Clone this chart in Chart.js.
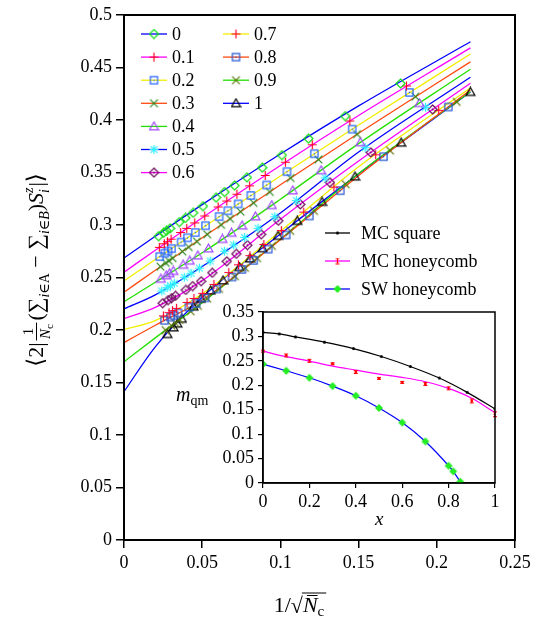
<!DOCTYPE html>
<html>
<head>
<meta charset="utf-8">
<script src="https://cdn.jsdelivr.net/npm/chart.js@4"></script>
<style>
  html, body { margin: 0; padding: 0; background: #fff; }
  #wrap { position: relative; width: 535px; height: 621px; }
  #main { position: absolute; left: 0; top: 0; }
  #inset { position: absolute; left: 160px; top: 215px; }
</style>
</head>
<body>
<div id="wrap">
  <canvas id="main" width="535" height="621"></canvas>
  <canvas id="inset" width="350" height="325"></canvas>
</div>
<script>
/* =============================
   DATA – MAIN PLOT
============================= */

const seriesNames = ["0", "0.1", "0.2", "0.3", "0.4", "0.5", "0.6", "0.7", "0.8", "0.9", "1"];

// fitted curves
const fitX  = [0, 0.02, 0.05, 0.1, 0.15, 0.2215];
const fit00 = [0.2686, 0.2892, 0.3194, 0.3676, 0.4134, 0.4745];
const fit01 = [0.2550, 0.2760, 0.3069, 0.3567, 0.4043, 0.4687];
const fit02 = [0.2467, 0.2671, 0.2972, 0.3467, 0.3952, 0.4628];
const fit03 = [0.2360, 0.2569, 0.2878, 0.3383, 0.3874, 0.4554];
const fit04 = [0.2270, 0.2455, 0.2735, 0.3245, 0.3775, 0.4483];
const fit05 = [0.2200, 0.2335, 0.2605, 0.3115, 0.3695, 0.4407];
const fit06 = [0.2107, 0.2215, 0.2470, 0.3055, 0.3610, 0.4350];
const fit07 = [0.2006, 0.2090, 0.2345, 0.2940, 0.3555, 0.4305];
const fit08 = [0.1880, 0.2045, 0.2285, 0.2860, 0.3470, 0.4286];
const fit09 = [0.1697, 0.1925, 0.2260, 0.2865, 0.3490, 0.4270];
const fit10 = [0.1413, 0.1840, 0.2311, 0.2915, 0.3487, 0.4267];

// data points
const x00 = [0.0221, 0.0253, 0.0272, 0.0295, 0.0354, 0.0393, 0.0442, 0.0505, 0.0589, 0.0643, 0.0707, 0.0786, 0.0884, 0.1010, 0.1179, 0.1414, 0.1768];
const y00 = [0.2893, 0.2926, 0.2945, 0.2968, 0.3028, 0.3067, 0.3116, 0.3179, 0.3261, 0.3314, 0.3376, 0.3453, 0.3546, 0.3665, 0.3823, 0.4037, 0.4348];
const x01 = [0.0226, 0.0258, 0.0278, 0.0301, 0.0362, 0.0401, 0.0452, 0.0516, 0.0602, 0.0657, 0.0722, 0.0803, 0.0903, 0.1032, 0.1204, 0.1444, 0.1806];
const y01 = [0.2787, 0.2821, 0.2841, 0.2865, 0.2928, 0.2968, 0.3020, 0.3086, 0.3172, 0.3228, 0.3293, 0.3373, 0.3472, 0.3598, 0.3764, 0.3991, 0.4324];
const x02 = [0.0228, 0.0261, 0.0281, 0.0304, 0.0365, 0.0406, 0.0456, 0.0521, 0.0608, 0.0664, 0.0730, 0.0811, 0.0912, 0.1042, 0.1217, 0.1459, 0.1825];
const y02 = [0.2699, 0.2732, 0.2752, 0.2775, 0.2837, 0.2878, 0.2928, 0.2993, 0.3080, 0.3136, 0.3201, 0.3281, 0.3381, 0.3508, 0.3679, 0.3913, 0.4262];
const x03 = [0.0233, 0.0267, 0.0287, 0.0311, 0.0373, 0.0414, 0.0466, 0.0532, 0.0621, 0.0678, 0.0745, 0.0828, 0.0932, 0.1065, 0.1243, 0.1490, 0.1863];
const y03 = [0.2603, 0.2639, 0.2659, 0.2684, 0.2748, 0.2790, 0.2843, 0.2911, 0.3002, 0.3060, 0.3127, 0.3211, 0.3315, 0.3448, 0.3624, 0.3865, 0.4223];
const x04 = [0.0236, 0.0270, 0.0291, 0.0315, 0.0378, 0.0420, 0.0472, 0.0540, 0.0629, 0.0687, 0.0755, 0.0840, 0.0945, 0.1079, 0.1260, 0.1511, 0.1889];
const y04 = [0.2488, 0.2520, 0.2540, 0.2562, 0.2621, 0.2660, 0.2709, 0.2776, 0.2867, 0.2926, 0.2995, 0.3082, 0.3189, 0.3329, 0.3521, 0.3787, 0.4161];
const x05 = [0.0241, 0.0276, 0.0297, 0.0322, 0.0386, 0.0429, 0.0482, 0.0551, 0.0642, 0.0701, 0.0771, 0.0857, 0.0964, 0.1102, 0.1286, 0.1542, 0.1928];
const y05 = [0.2372, 0.2403, 0.2422, 0.2445, 0.2502, 0.2541, 0.2589, 0.2657, 0.2750, 0.2810, 0.2881, 0.2969, 0.3078, 0.3233, 0.3448, 0.3737, 0.4121];
const x06 = [0.0247, 0.0282, 0.0304, 0.0329, 0.0395, 0.0439, 0.0493, 0.0564, 0.0657, 0.0718, 0.0789, 0.0877, 0.0987, 0.1127, 0.1316, 0.1578, 0.1973];
const y06 = [0.2255, 0.2285, 0.2303, 0.2325, 0.2381, 0.2418, 0.2464, 0.2545, 0.2654, 0.2725, 0.2808, 0.2911, 0.3040, 0.3196, 0.3406, 0.3691, 0.4100];
const x07 = [0.0252, 0.0288, 0.0310, 0.0336, 0.0403, 0.0447, 0.0503, 0.0575, 0.0670, 0.0732, 0.0805, 0.0894, 0.1006, 0.1149, 0.1342, 0.1609, 0.2012];
const y07 = [0.2134, 0.2165, 0.2184, 0.2206, 0.2263, 0.2300, 0.2349, 0.2434, 0.2547, 0.2621, 0.2708, 0.2814, 0.2947, 0.3123, 0.3361, 0.3669, 0.4092];
const x08 = [0.0259, 0.0297, 0.0319, 0.0346, 0.0415, 0.0461, 0.0518, 0.0592, 0.0691, 0.0754, 0.0829, 0.0922, 0.1037, 0.1185, 0.1383, 0.1659, 0.2074];
const y08 = [0.2092, 0.2123, 0.2140, 0.2162, 0.2217, 0.2254, 0.2306, 0.2391, 0.2505, 0.2577, 0.2663, 0.2770, 0.2905, 0.3086, 0.3327, 0.3650, 0.4124];
const x09 = [0.0266, 0.0304, 0.0327, 0.0355, 0.0426, 0.0473, 0.0532, 0.0608, 0.0709, 0.0774, 0.0851, 0.0946, 0.1063, 0.1215, 0.1418, 0.1701, 0.2127];
const y09 = [0.1999, 0.2041, 0.2067, 0.2098, 0.2178, 0.2230, 0.2299, 0.2391, 0.2513, 0.2592, 0.2685, 0.2800, 0.2944, 0.3134, 0.3388, 0.3709, 0.4173];
const x10 = [0.0277, 0.0317, 0.0341, 0.0370, 0.0444, 0.0492, 0.0554, 0.0633, 0.0738, 0.0806, 0.0886, 0.0985, 0.1108, 0.1266, 0.1477, 0.1772, 0.2215];
const y10 = [0.1961, 0.2024, 0.2061, 0.2107, 0.2223, 0.2298, 0.2376, 0.2472, 0.2599, 0.2681, 0.2778, 0.2897, 0.3039, 0.3220, 0.3461, 0.3784, 0.4267];

const xTicks = [0, 0.05, 0.1, 0.15, 0.2, 0.25];
const yTicks = [0, 0.05, 0.1, 0.15, 0.2, 0.25, 0.3, 0.35, 0.4, 0.45, 0.5];

/* =============================
   DATA – INSET
============================= */

const insetNames = ["MC square", "MC honeycomb", "SW honeycomb"];
const sqX = [0, 0.07, 0.14, 0.265, 0.39, 0.51, 0.635, 0.76, 0.88, 1.0];
const sqY = [0.3085, 0.3051, 0.2990, 0.2882, 0.2752, 0.2589, 0.2385, 0.2148, 0.1855, 0.1516];
const mcX = [0, 0.1, 0.2, 0.3, 0.4, 0.5, 0.6, 0.7, 0.8, 0.9, 1.0];
const mcY = [0.2698, 0.2610, 0.2501, 0.2440, 0.2270, 0.2141, 0.2059, 0.2025, 0.1937, 0.1679, 0.1407];
const mcErr = [0.002, 0.003, 0.003, 0.002, 0.003, 0.002, 0.002, 0.003, 0.003, 0.004, 0.005];
const mcFitX = [0, 0.1, 0.2, 0.3, 0.4, 0.5, 0.6, 0.7, 0.8, 0.9, 1.0];
const mcFitY = [0.2698, 0.2585, 0.2494, 0.2392, 0.2311, 0.2229, 0.2161, 0.2073, 0.1937, 0.1735, 0.1441];
const swX = [0, 0.1, 0.2, 0.3, 0.4, 0.5, 0.6, 0.7, 0.8, 0.82, 0.85];
const swY = [0.2433, 0.2297, 0.2154, 0.1984, 0.1787, 0.1536, 0.1237, 0.0850, 0.0353, 0.0238, 0.0027];
const insetXTicks = [0, 0.2, 0.4, 0.6, 0.8, 1];
const insetYTicks = [0, 0.05, 0.1, 0.15, 0.2, 0.25, 0.3, 0.35];

/* =============================
   STYLES
============================= */

const SERIF = '"Liberation Serif", "DejaVu Serif", serif';
const lineColors = ["#0000ff", "#ff00ff", "#f2ee00", "#ff4a10", "#22e000", "#0000ff", "#ff00ff", "#f2ee00", "#ff4a10", "#22e000", "#0000ff"];
const markKinds  = ["diamond", "plus", "square", "x", "triangle", "star", "diamondDot", "plus", "square", "x", "triangle"];
const markColors = ["#10dd10", "#ff0020", "#2060ff", "#2a8a20", "#a048ff", "#30f0ff", "#6a0a5a", "#ff0030", "#2050d0", "#5a7400", "#000000"];

function font(size, italic) {
    return (italic ? "italic " : "") + size + "px " + SERIF;
}

// small canvases used as point styles
function makeMarker(kind, color, size) {
    const c = document.createElement("canvas");
    c.width = size; c.height = size;
    const g = c.getContext("2d");
    const m = size / 2, r = size / 2 - 1;
    g.strokeStyle = color; g.fillStyle = color; g.lineWidth = 1.2;
    g.beginPath();
    if (kind === "diamond" || kind === "diamondDot" || kind === "diamondFill") {
        g.moveTo(m, m - r); g.lineTo(m + r, m); g.lineTo(m, m + r); g.lineTo(m - r, m); g.closePath();
        if (kind === "diamondFill") g.fill(); else g.stroke();
        if (kind === "diamondDot") { g.beginPath(); g.arc(m, m, 1, 0, 2 * Math.PI); g.fill(); }
    } else if (kind === "plus") {
        g.moveTo(m - r, m); g.lineTo(m + r, m); g.moveTo(m, m - r); g.lineTo(m, m + r); g.stroke();
    } else if (kind === "x") {
        const d = r * 0.85;
        g.moveTo(m - d, m - d); g.lineTo(m + d, m + d); g.moveTo(m + d, m - d); g.lineTo(m - d, m + d); g.stroke();
    } else if (kind === "square") {
        const d = r * 0.8;
        g.strokeRect(m - d, m - d, 2 * d, 2 * d);
        g.fillRect(m - 0.7, m - 0.7, 1.4, 1.4);
    } else if (kind === "triangle") {
        g.moveTo(m, m - r); g.lineTo(m + r, m + r * 0.75); g.lineTo(m - r, m + r * 0.75); g.closePath(); g.stroke();
    } else if (kind === "star") {
        const d = r * 0.75;
        g.moveTo(m - r, m); g.lineTo(m + r, m); g.moveTo(m, m - r); g.lineTo(m, m + r);
        g.moveTo(m - d, m - d); g.lineTo(m + d, m + d); g.moveTo(m + d, m - d); g.lineTo(m - d, m + d); g.stroke();
    } else if (kind === "dot") {
        g.arc(m, m, r, 0, 2 * Math.PI); g.fill();
    } else if (kind === "errbar") {
        g.moveTo(m, 1); g.lineTo(m, size - 1);
        g.moveTo(m - 2, 1); g.lineTo(m + 2, 1);
        g.moveTo(m - 2, size - 1); g.lineTo(m + 2, size - 1); g.stroke();
    }
    return c;
}

const markers = markKinds.map((k, i) => makeMarker(k, markColors[i], 11));

/* =============================
   MAIN CHART
============================= */

const fits = [fit00, fit01, fit02, fit03, fit04, fit05, fit06, fit07, fit08, fit09, fit10];
const ptsX = [x00, x01, x02, x03, x04, x05, x06, x07, x08, x09, x10];
const ptsY = [y00, y01, y02, y03, y04, y05, y06, y07, y08, y09, y10];

const mainSets = [];
seriesNames.forEach((name, i) => {
    mainSets.push({
        label: name,
        data: ptsX[i].map((x, j) => ({ x: x, y: ptsY[i][j] })),
        showLine: false,
        pointStyle: markers[i],
        pointRadius: 5,
        order: 1
    });
    mainSets.push({
        label: name + " fit",
        data: fitX.map((x, j) => ({ x: x, y: fits[i][j] })),
        showLine: true,
        borderColor: lineColors[i],
        borderWidth: 1.3,
        pointRadius: 0,
        cubicInterpolationMode: "monotone",
        order: 2
    });
});

function fmt(v) {
    return String(+v.toFixed(2));
}

function drawMainLegend(ctx) {
    ctx.save();
    ctx.font = font(18);
    ctx.textBaseline = "middle";
    ctx.fillStyle = "#000";
    seriesNames.forEach((name, i) => {
        const col = i < 7 ? 0 : 1;
        const row = i < 7 ? i : i - 7;
        const x0 = col === 0 ? 141 : 223;
        const y = 34 + row * 23.1;
        ctx.strokeStyle = lineColors[i];
        ctx.lineWidth = 1.3;
        ctx.beginPath(); ctx.moveTo(x0, y); ctx.lineTo(x0 + 26, y); ctx.stroke();
        ctx.drawImage(markers[i], x0 + 13 - 5.5, y - 5.5);
        ctx.fillText(name, x0 + 31, y + 1);
    });
    ctx.restore();
}

function drawYTitle(ctx) {
    ctx.save();
    ctx.translate(43, 270);
    ctx.rotate(-Math.PI / 2);
    ctx.fillStyle = "#000";
    ctx.textBaseline = "alphabetic";
    const run = draw => {
        let x = 0;
        const put = (t, sz, it, dy, adv) => {
            ctx.font = font(sz, it);
            if (draw) ctx.fillText(t, x, dy || 0);
            const w = ctx.measureText(t).width;
            if (adv !== false) x += w;
            return w;
        };
        put("\u27E8", 23); put("2", 22); put("|", 22);
        x += 2;
        ctx.font = font(15); const wn = ctx.measureText("1").width;
        ctx.font = font(15, true); const wN = ctx.measureText("N").width;
        ctx.font = font(11); const wc = ctx.measureText("c").width;
        const fw = Math.max(wn, wN + wc) + 3;
        if (draw) {
            ctx.font = font(15); ctx.fillText("1", x + (fw - wn) / 2, -10);
            ctx.fillRect(x, -7, fw, 1);
            const dx = x + (fw - wN - wc) / 2;
            ctx.font = font(15, true); ctx.fillText("N", dx, 7);
            ctx.font = font(11); ctx.fillText("c", dx + wN, 9.5);
        }
        x += fw + 2;
        put("(", 22);
        put("\u2211", 22);
        put("i", 14, true, 6); put("\u2208", 14, false, 6); put("A", 14, false, 6);
        put(" \u2212 ", 22);
        put("\u2211", 22);
        put("i", 14, true, 6); put("\u2208", 14, false, 6); put("B", 14, true, 6);
        put(")", 22);
        put("S", 22, true);
        const w1 = put("z", 14, true, -10, false);
        const w2 = put("i", 14, true, 6, false);
        x += Math.max(w1, w2) + 1;
        put("|", 22); put("\u27E9", 23);
        return x;
    };
    const total = run(false);
    ctx.translate(-total / 2, 0);
    run(true);
    ctx.restore();
}

function drawXTitle(ctx) {
    ctx.save();
    ctx.fillStyle = "#000";
    ctx.strokeStyle = "#000";
    ctx.textBaseline = "alphabetic";
    ctx.font = font(22); const w1 = ctx.measureText("1/").width;
    const wr = ctx.measureText("\u221A").width;
    ctx.font = font(22, true); const wN = ctx.measureText("N").width;
    ctx.font = font(15); const wc = ctx.measureText("c").width;
    const total = w1 + wr + wN + wc + 2;
    let x = 300 - total / 2;
    const y = 612;
    ctx.font = font(22); ctx.fillText("1/", x, y); x += w1;
    ctx.fillText("\u221A", x, y + 1); x += wr;
    ctx.lineWidth = 1;
    ctx.beginPath(); ctx.moveTo(x - 1, y - 19); ctx.lineTo(x + wN + wc + 2, y - 19); ctx.stroke();
    ctx.beginPath(); ctx.moveTo(x + 4, y - 16.5); ctx.lineTo(x + wN, y - 16.5); ctx.stroke();
    ctx.font = font(22, true); ctx.fillText("N", x, y); x += wN;
    ctx.font = font(15); ctx.fillText("c", x, y + 4);
    ctx.restore();
}

const mainDecor = {
    id: "mainDecor",
    afterDraw(chart) {
        const { ctx, chartArea: a } = chart;
        ctx.save();
        ctx.strokeStyle = "#000";
        ctx.lineWidth = 2;
        ctx.strokeRect(a.left, a.top, a.right - a.left, a.bottom - a.top);
        ctx.restore();
        drawMainLegend(ctx);
        drawYTitle(ctx);
        drawXTitle(ctx);
    }
};

Chart.defaults.font.family = SERIF;
Chart.defaults.color = "#000";

new Chart(document.getElementById("main"), {
    type: "scatter",
    data: { datasets: mainSets },
    options: {
        responsive: false,
        animation: false,
        layout: { padding: { top: 15, right: 20, left: 0, bottom: 0 } },
        plugins: { legend: { display: false }, tooltip: { enabled: false } },
        scales: {
            x: {
                type: "linear", min: 0, max: 0.25,
                afterBuildTicks: s => { s.ticks = xTicks.map(v => ({ value: v })); },
                afterFit: s => { s.height = 81; },
                ticks: { font: { size: 18 }, padding: 4, autoSkip: false, maxRotation: 0, callback: fmt },
                grid: { drawOnChartArea: false, tickLength: 8, color: "#000", lineWidth: 1.5 },
                border: { color: "#000", width: 2 }
            },
            y: {
                type: "linear", min: 0, max: 0.5,
                afterBuildTicks: s => { s.ticks = yTicks.map(v => ({ value: v })); },
                afterFit: s => { s.width = 124; },
                ticks: { font: { size: 18 }, padding: 4, autoSkip: false, callback: fmt },
                grid: { drawOnChartArea: false, tickLength: 8, color: "#000", lineWidth: 1.5 },
                border: { color: "#000", width: 2 }
            }
        }
    },
    plugins: [mainDecor]
});

/* =============================
   INSET CHART
============================= */

const sqDot = makeMarker("dot", "#000", 5);
const swDiamond = makeMarker("diamondFill", "#22ee22", 10);
const errIcon = makeMarker("errbar", "#ff0000", 7);

const insetDecor = {
    id: "insetDecor",
    afterDatasetsDraw(chart) {
        const { ctx, scales } = chart;
        ctx.save();
        ctx.strokeStyle = "#ff0000";
        ctx.lineWidth = 1;
        mcX.forEach((x, i) => {
            const px = scales.x.getPixelForValue(x);
            const y1 = scales.y.getPixelForValue(mcY[i] - mcErr[i]);
            const y2 = scales.y.getPixelForValue(mcY[i] + mcErr[i]);
            ctx.beginPath();
            ctx.moveTo(px, y1); ctx.lineTo(px, y2);
            ctx.moveTo(px - 2, y1); ctx.lineTo(px + 2, y1);
            ctx.moveTo(px - 2, y2); ctx.lineTo(px + 2, y2);
            ctx.stroke();
        });
        ctx.restore();
    },
    afterDraw(chart) {
        const { ctx, chartArea: a } = chart;
        ctx.save();
        ctx.strokeStyle = "#000";
        ctx.lineWidth = 1.5;
        ctx.strokeRect(a.left, a.top, a.right - a.left, a.bottom - a.top);
        // legend
        const lc = ["#000000", "#ff00ff", "#0000ff"];
        const icons = [sqDot, errIcon, swDiamond];
        ctx.font = font(18);
        ctx.textBaseline = "middle";
        ctx.fillStyle = "#000";
        insetNames.forEach((name, i) => {
            const y = 18 + i * 28;
            ctx.strokeStyle = lc[i];
            ctx.lineWidth = 1.3;
            ctx.beginPath(); ctx.moveTo(165, y); ctx.lineTo(190, y); ctx.stroke();
            ctx.drawImage(icons[i], 177.5 - icons[i].width / 2, y - icons[i].height / 2);
            ctx.fillText(name, 201, y + 1);
        });
        // axis labels
        ctx.textBaseline = "alphabetic";
        ctx.font = font(19, true);
        ctx.fillText("x", (a.left + a.right) / 2 - 4, 310);
        ctx.font = font(20, true);
        ctx.fillText("m", 16, 186);
        const wm = ctx.measureText("m").width;
        ctx.font = font(14);
        ctx.fillText("qm", 16 + wm, 190);
        ctx.restore();
    }
};

new Chart(document.getElementById("inset"), {
    type: "scatter",
    data: {
        datasets: [
            {
                label: insetNames[0],
                data: sqX.map((x, i) => ({ x: x, y: sqY[i] })),
                showLine: true, borderColor: "#000", borderWidth: 1.2,
                cubicInterpolationMode: "monotone",
                pointStyle: sqDot, pointRadius: 2
            },
            {
                label: insetNames[1] + " fit",
                data: mcFitX.map((x, i) => ({ x: x, y: mcFitY[i] })),
                showLine: true, borderColor: "#ff00ff", borderWidth: 1.2,
                cubicInterpolationMode: "monotone", pointRadius: 0
            },
            {
                label: insetNames[1],
                data: mcX.map((x, i) => ({ x: x, y: mcY[i] })),
                showLine: false, pointRadius: 1, backgroundColor: "#ff0000", borderColor: "#ff0000"
            },
            {
                label: insetNames[2],
                data: swX.map((x, i) => ({ x: x, y: swY[i] })),
                showLine: true, borderColor: "#0000ff", borderWidth: 1.2,
                cubicInterpolationMode: "monotone",
                pointStyle: swDiamond, pointRadius: 5
            }
        ]
    },
    options: {
        responsive: false,
        animation: false,
        layout: { padding: { top: 97, right: 15, left: 0, bottom: 0 } },
        plugins: { legend: { display: false }, tooltip: { enabled: false } },
        scales: {
            x: {
                type: "linear", min: 0, max: 1,
                afterBuildTicks: s => { s.ticks = insetXTicks.map(v => ({ value: v })); },
                afterFit: s => { s.height = 57; },
                ticks: { font: { size: 18 }, padding: 3, autoSkip: false, maxRotation: 0, callback: fmt },
                grid: { drawOnChartArea: false, tickLength: 5, color: "#000", lineWidth: 1.2 },
                border: { color: "#000", width: 1.5 }
            },
            y: {
                type: "linear", min: 0, max: 0.35,
                afterBuildTicks: s => { s.ticks = insetYTicks.map(v => ({ value: v })); },
                afterFit: s => { s.width = 103; },
                ticks: { font: { size: 18 }, padding: 4, autoSkip: false, callback: fmt },
                grid: { drawOnChartArea: false, tickLength: 5, color: "#000", lineWidth: 1.2 },
                border: { color: "#000", width: 1.5 }
            }
        }
    },
    plugins: [insetDecor]
});
</script>
</body>
</html>
